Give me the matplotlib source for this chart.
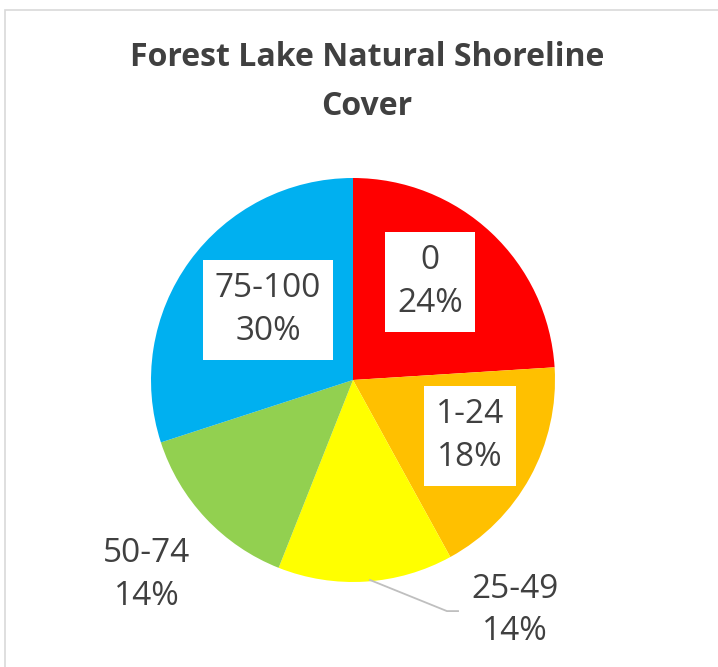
import matplotlib.pyplot as plt
from matplotlib.patches import Rectangle

# donnees
categories = ['0', '1-24', '25-49', '50-74', '75-100']
parts = [24, 18, 14, 14, 30]
couleurs = ['#FF0000', '#FFC000', '#FFFF00', '#92D050', '#00B0F0']

# position des etiquettes (unites du rayon)
pos_etiq = [(0.381, 0.485), (0.579, -0.277), (0.80, -1.14), (-1.02, -0.965), (-0.421, 0.347)]
avec_cadre = [True, True, False, False, True]

gris = '#404040'
plt.rcParams['font.family'] = ['Open Sans', 'DejaVu Sans']

fig = plt.figure(figsize=(7.18, 6.67), dpi=100)

# cadre du graphique
fig.patches.append(Rectangle((5 / 718, -0.1), 1.2, 1.1 - 10 / 667, transform=fig.transFigure,
                             fill=False, edgecolor='#d9d9d9', linewidth=1.2))

r = 202
ax = fig.add_axes([(353 - r) / 718, (667 - 582) / 667, 2 * r / 718, 2 * r / 667])
ax.pie(parts, colors=couleurs, startangle=90, counterclock=False, radius=1,
       wedgeprops=dict(linewidth=0))
ax.set_xlim(-1, 1)
ax.set_ylim(-1, 1)
ax.set_aspect('equal')
ax.axis('off')

for cat, p, (x, y), cadre in zip(categories, parts, pos_etiq, avec_cadre):
    kw = {}
    if cadre:
        kw['bbox'] = dict(boxstyle='square,pad=0.36', facecolor='white', edgecolor='none')
    ax.text(x, y, f'{cat}\n{p}%', ha='center', va='center', fontsize=24, color=gris,
            linespacing=1.38, clip_on=False, **kw)

# ligne de rappel pour 25-49
ax.plot([0.084, 0.465, 0.52], [-0.99, -1.144, -1.144], color='#bfbfbf', linewidth=1.3,
        clip_on=False)

fig.text(367 / 718, 1 - 82 / 667, 'Forest Lake Natural Shoreline\nCover', ha='center', va='center',
         fontsize=23, fontweight='bold', color=gris, linespacing=1.65)

fig.savefig('out.png', dpi=100)
